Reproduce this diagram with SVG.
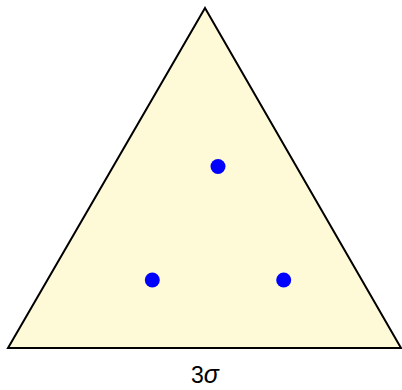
<svg xmlns="http://www.w3.org/2000/svg" width="402" height="390" viewBox="0 0 402 390">
<style>
.tri{fill:#fef9d6;stroke:#000;stroke-width:2;stroke-linejoin:miter}
.dot{fill:#0000ff}
.lbl{font-family:"Liberation Sans",Arial,sans-serif;font-size:23px;fill:#000}
</style>
<rect width="402" height="390" fill="#fff"/>
<g id="triangle"><polygon class="tri" points="205,8 8,348 401,348"/></g>
<g id="p1"><circle class="dot" cx="218" cy="166.5" r="7.5"/></g>
<g id="p2"><circle class="dot" cx="152.3" cy="280" r="7.5"/></g>
<g id="p3"><circle class="dot" cx="283.7" cy="280" r="7.5"/></g>
<g id="label"><text class="lbl" x="205" y="383" text-anchor="middle">3<tspan font-style="italic" font-size="25px">σ</tspan></text></g>
</svg>
